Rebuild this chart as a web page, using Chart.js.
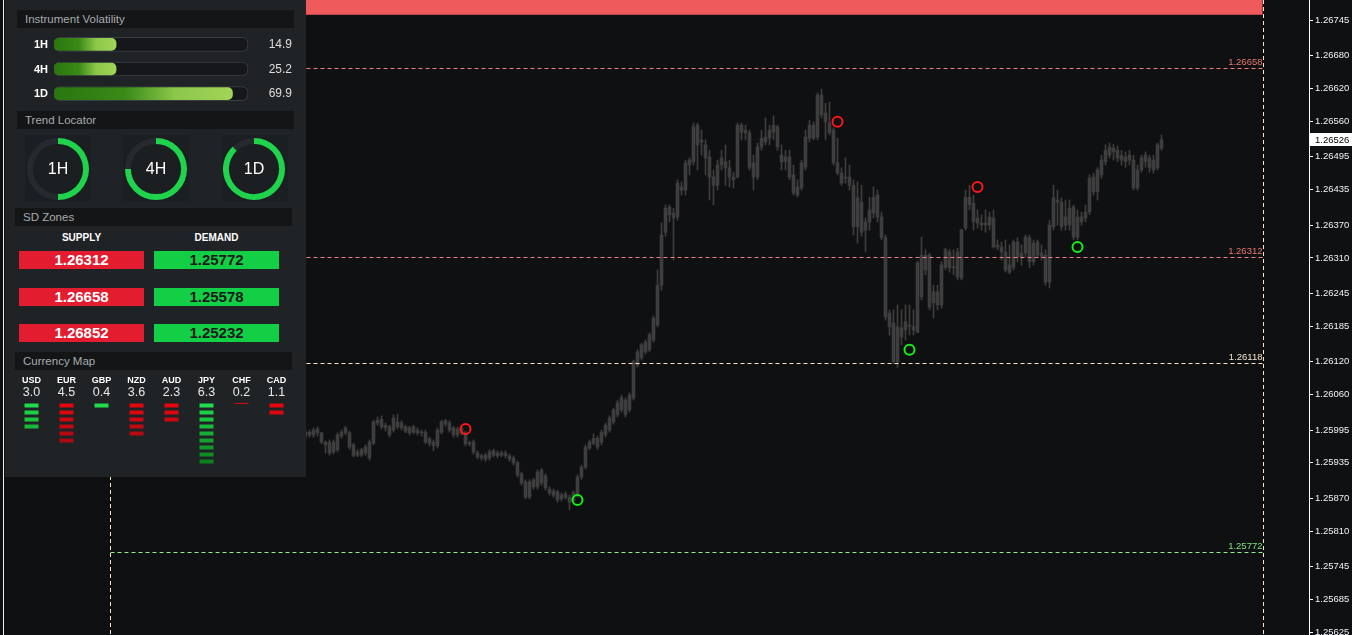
<!DOCTYPE html>
<html>
<head>
<meta charset="utf-8">
<script src="https://cdn.jsdelivr.net/npm/chart.js@4.4.1/dist/chart.umd.min.js"></script>
<style>
  html, body { margin: 0; padding: 0; background: #0f1012; width: 1352px; height: 635px; overflow: hidden; font-family: "Liberation Sans", Arial, sans-serif; }
  canvas { position: absolute; }
  .edge { position: absolute; left: 3px; top: 0; width: 1px; height: 635px; background: #f0f0f0; }
  .panel { position: absolute; left: 5px; top: 0; width: 301px; height: 477px; background: #1f2326; }
  .hdr { position: absolute; width: 277px; height: 18px; line-height: 18px; background: #131517; color: #a9abad; font-size: 11.5px; padding-left: 8px; box-sizing: border-box; }
  .gbox { position: absolute; top: 135px; width: 66px; height: 66px; background: #1c1f22; }
  .sdh { position: absolute; top: 232px; width: 125px; text-align: center; color: #fff; font-weight: bold; font-size: 10px; }
  .sd { position: absolute; width: 125px; height: 18px; line-height: 18px; text-align: center; font-weight: bold; font-size: 15px; }
</style>
</head>
<body>
<canvas id="main" width="1352" height="635"></canvas>
<div class="edge"></div>
<div class="panel"></div>

<div class="hdr" style="left:17px;top:10px">Instrument Volatility</div>
<canvas id="vol" width="280" height="74" style="left:20px;top:32px"></canvas>

<div class="hdr" style="left:17px;top:111px">Trend Locator</div>
<div class="gbox" style="left:25px"></div>
<div class="gbox" style="left:123px"></div>
<div class="gbox" style="left:222px"></div>
<canvas id="g0" width="62" height="62" style="left:27px;top:138px"></canvas>
<canvas id="g1" width="62" height="62" style="left:125px;top:138px"></canvas>
<canvas id="g2" width="62" height="62" style="left:223px;top:138px"></canvas>

<div class="hdr" style="left:15px;top:208px">SD Zones</div>
<div class="sdh" style="left:19px">SUPPLY</div>
<div class="sdh" style="left:154px">DEMAND</div>
<div id="sd"></div>

<div class="hdr" style="left:15px;top:352px">Currency Map</div>
<canvas id="cur" width="280" height="96" style="left:14px;top:374px"></canvas>

<script>
// ---- price data (M5 candles, oldest first) ----
const opens = [
  1.25984,1.25986,1.25986,1.25997,1.25990,1.25973,1.25973,1.25955,1.25959,1.25984,
  1.25990,1.25990,1.25968,1.25949,1.25959,1.25953,1.25973,1.25971,1.26008,1.26015,
  1.26004,1.26001,1.25995,1.26010,1.26008,1.26001,1.25999,1.25991,1.25995,1.25991,
  1.25991,1.25979,1.25973,1.25966,1.25991,1.26012,1.26008,1.25999,1.25986,1.25999,
  1.25990,1.25971,1.25973,1.25953,1.25948,1.25942,1.25944,1.25957,1.25948,1.25953,
  1.25953,1.25948,1.25944,1.25935,1.25915,1.25900,1.25872,1.25891,1.25891,1.25922,
  1.25911,1.25887,1.25883,1.25882,1.25869,1.25878,1.25872,1.25867,1.25876,1.25909,
  1.25927,1.25962,1.25971,1.25980,1.25973,1.25986,1.25995,1.26010,1.26023,1.26032,
  1.26050,1.26032,1.26054,1.26114,1.26127,1.26138,1.26142,1.26160,1.26187,1.26260,
  1.26357,1.26403,1.26392,1.26385,1.26440,1.26434,1.26489,1.26486,1.26553,1.26526,
  1.26517,1.26495,1.26458,1.26443,1.26480,1.26486,1.26475,1.26458,1.26458,1.26553,
  1.26544,1.26539,1.26484,1.26458,1.26513,1.26522,1.26529,1.26540,1.26550,1.26498,
  1.26486,1.26495,1.26462,1.26440,1.26438,1.26476,1.26529,1.26553,1.26531,1.26608,
  1.26575,1.26557,1.26544,1.26484,1.26465,1.26458,1.26458,1.26443,1.26367,1.26412,
  1.26361,1.26376,1.26392,1.26425,1.26385,1.26347,1.26209,1.26191,1.26120,1.26182,
  1.26178,1.26187,1.26184,1.26174,1.26315,1.26288,1.26315,1.26228,1.26248,1.26224,
  1.26293,1.26321,1.26293,1.26275,1.26273,1.26365,1.26421,1.26410,1.26383,1.26374,
  1.26370,1.26370,1.26383,1.26334,1.26330,1.26321,1.26284,1.26293,1.26339,1.26319,
  1.26319,1.26347,1.26303,1.26339,1.26319,1.26315,1.26266,1.26367,1.26416,1.26412,
  1.26370,1.26370,1.26403,1.26348,1.26376,1.26383,1.26394,1.26458,1.26431,1.26462,
  1.26486,1.26498,1.26511,1.26507,1.26498,1.26486,1.26498,1.26489,1.26438,1.26471,
  1.26498,1.26493,1.26471,1.26475,1.26511
];
const closes = [
  1.25991,1.25991,1.25995,1.25990,1.25973,1.25968,1.25953,1.25973,1.25986,1.25991,
  1.25999,1.25964,1.25949,1.25955,1.25949,1.25964,1.25944,1.26010,1.26013,1.26001,
  1.25999,1.25986,1.26017,1.26001,1.25999,1.25993,1.25990,1.26001,1.25990,1.25990,
  1.25973,1.25971,1.25966,1.25995,1.26010,1.26006,1.25995,1.25986,1.25997,1.25990,
  1.25970,1.25970,1.25955,1.25946,1.25944,1.25949,1.25955,1.25949,1.25953,1.25949,
  1.25948,1.25942,1.25935,1.25913,1.25898,1.25872,1.25900,1.25904,1.25918,1.25898,
  1.25889,1.25880,1.25876,1.25867,1.25876,1.25872,1.25863,1.25880,1.25909,1.25927,
  1.25964,1.25973,1.25980,1.25964,1.25991,1.26004,1.26017,1.26032,1.26045,1.26054,
  1.26023,1.26059,1.26120,1.26138,1.26151,1.26156,1.26169,1.26200,1.26260,1.26352,
  1.26401,1.26389,1.26383,1.26447,1.26434,1.26484,1.26480,1.26550,1.26517,1.26522,
  1.26493,1.26458,1.26443,1.26480,1.26493,1.26475,1.26458,1.26453,1.26553,1.26540,
  1.26539,1.26476,1.26458,1.26513,1.26529,1.26531,1.26544,1.26553,1.26513,1.26486,
  1.26495,1.26458,1.26429,1.26425,1.26484,1.26531,1.26553,1.26529,1.26608,1.26572,
  1.26559,1.26539,1.26484,1.26465,1.26447,1.26456,1.26443,1.26367,1.26420,1.26357,
  1.26376,1.26398,1.26421,1.26385,1.26347,1.26202,1.26184,1.26120,1.26184,1.26165,
  1.26193,1.26185,1.26178,1.26301,1.26239,1.26315,1.26220,1.26248,1.26224,1.26297,
  1.26325,1.26292,1.26292,1.26321,1.26361,1.26421,1.26407,1.26376,1.26374,1.26370,
  1.26374,1.26385,1.26330,1.26330,1.26321,1.26288,1.26297,1.26339,1.26312,1.26310,
  1.26348,1.26303,1.26337,1.26315,1.26312,1.26266,1.26370,1.26420,1.26412,1.26367,
  1.26385,1.26401,1.26348,1.26385,1.26385,1.26394,1.26456,1.26431,1.26471,1.26489,
  1.26507,1.26513,1.26504,1.26493,1.26489,1.26495,1.26489,1.26438,1.26471,1.26493,
  1.26486,1.26475,1.26489,1.26517,1.26526
];
const highs = [
  1.25995,1.25995,1.25999,1.26001,1.25991,1.25975,1.25977,1.25977,1.25990,1.25995,
  1.26002,1.25993,1.25971,1.25959,1.25962,1.25968,1.25977,1.26013,1.26019,1.26021,
  1.26008,1.26004,1.26023,1.26024,1.26012,1.26004,1.26002,1.26004,1.25999,1.25995,
  1.25995,1.25982,1.25977,1.25999,1.26013,1.26015,1.26012,1.26002,1.26001,1.26002,
  1.25993,1.25975,1.25977,1.25957,1.25951,1.25953,1.25959,1.25960,1.25957,1.25957,
  1.25957,1.25951,1.25948,1.25938,1.25918,1.25904,1.25904,1.25907,1.25922,1.25925,
  1.25915,1.25891,1.25887,1.25885,1.25880,1.25882,1.25876,1.25883,1.25913,1.25931,
  1.25968,1.25977,1.25988,1.25984,1.25995,1.26008,1.26021,1.26035,1.26050,1.26059,
  1.26054,1.26063,1.26123,1.26142,1.26154,1.26160,1.26173,1.26204,1.26288,1.26374,
  1.26407,1.26407,1.26401,1.26453,1.26449,1.26489,1.26493,1.26557,1.26557,1.26544,
  1.26526,1.26507,1.26471,1.26489,1.26507,1.26517,1.26489,1.26467,1.26557,1.26557,
  1.26553,1.26544,1.26498,1.26520,1.26544,1.26566,1.26553,1.26570,1.26553,1.26517,
  1.26507,1.26507,1.26480,1.26453,1.26489,1.26544,1.26562,1.26559,1.26612,1.26619,
  1.26593,1.26595,1.26548,1.26529,1.26475,1.26493,1.26480,1.26453,1.26449,1.26443,
  1.26383,1.26421,1.26440,1.26434,1.26394,1.26352,1.26215,1.26215,1.26224,1.26215,
  1.26224,1.26224,1.26215,1.26304,1.26348,1.26325,1.26319,1.26260,1.26260,1.26303,
  1.26328,1.26326,1.26325,1.26328,1.26363,1.26434,1.26443,1.26425,1.26398,1.26389,
  1.26398,1.26394,1.26398,1.26343,1.26339,1.26343,1.26334,1.26343,1.26347,1.26334,
  1.26352,1.26352,1.26343,1.26343,1.26334,1.26325,1.26379,1.26443,1.26434,1.26420,
  1.26416,1.26416,1.26407,1.26398,1.26394,1.26407,1.26462,1.26465,1.26475,1.26498,
  1.26517,1.26520,1.26518,1.26515,1.26507,1.26504,1.26507,1.26498,1.26480,1.26498,
  1.26504,1.26498,1.26498,1.26520,1.26535
];
const lows = [
  1.25980,1.25982,1.25982,1.25984,1.25970,1.25953,1.25949,1.25951,1.25955,1.25980,
  1.25986,1.25960,1.25946,1.25946,1.25946,1.25949,1.25940,1.25968,1.26004,1.25997,
  1.25993,1.25982,1.25991,1.25997,1.25995,1.25990,1.25986,1.25988,1.25986,1.25984,
  1.25970,1.25966,1.25957,1.25962,1.25988,1.26002,1.25991,1.25982,1.25982,1.25986,
  1.25966,1.25966,1.25951,1.25942,1.25940,1.25938,1.25940,1.25946,1.25944,1.25946,
  1.25944,1.25938,1.25931,1.25909,1.25894,1.25869,1.25869,1.25887,1.25887,1.25894,
  1.25885,1.25876,1.25872,1.25863,1.25865,1.25869,1.25849,1.25863,1.25872,1.25905,
  1.25924,1.25959,1.25968,1.25960,1.25968,1.25982,1.25991,1.26006,1.26019,1.26028,
  1.26019,1.26028,1.26050,1.26110,1.26123,1.26134,1.26138,1.26156,1.26184,1.26251,
  1.26350,1.26376,1.26306,1.26379,1.26425,1.26425,1.26462,1.26480,1.26471,1.26498,
  1.26462,1.26416,1.26407,1.26434,1.26471,1.26443,1.26440,1.26438,1.26456,1.26526,
  1.26526,1.26471,1.26434,1.26453,1.26507,1.26517,1.26517,1.26526,1.26507,1.26471,
  1.26471,1.26453,1.26425,1.26422,1.26434,1.26471,1.26522,1.26526,1.26526,1.26566,
  1.26526,1.26535,1.26480,1.26462,1.26443,1.26447,1.26434,1.26352,1.26337,1.26350,
  1.26321,1.26361,1.26383,1.26376,1.26343,1.26196,1.26169,1.26116,1.26110,1.26151,
  1.26160,1.26169,1.26169,1.26173,1.26233,1.26279,1.26215,1.26200,1.26215,1.26218,
  1.26288,1.26284,1.26279,1.26270,1.26270,1.26361,1.26398,1.26361,1.26365,1.26361,
  1.26357,1.26361,1.26328,1.26325,1.26306,1.26284,1.26281,1.26288,1.26303,1.26297,
  1.26312,1.26292,1.26297,1.26310,1.26306,1.26260,1.26255,1.26361,1.26370,1.26361,
  1.26361,1.26361,1.26343,1.26343,1.26370,1.26376,1.26389,1.26425,1.26416,1.26456,
  1.26480,1.26493,1.26489,1.26486,1.26480,1.26476,1.26480,1.26434,1.26434,1.26467,
  1.26476,1.26467,1.26465,1.26471,1.26507
];

// signal markers (candle index + price)
const sellIdx = [40, 133, 168];
const sellPrice = [1.25997, 1.26559, 1.26440];
const buyIdx = [68, 151, 193];
const buyPrice = [1.25867, 1.26142, 1.26330];

// levels drawn on the chart
const levelPrices = [1.26658, 1.26312, 1.26118, 1.25772];
const levelLine = ["#f08080", "#f08080", "#ffe4c4", "#90ee90"];
const levelText = ["#e8786f", "#e8786f", "#f2e2cf", "#7fe07f"];
const supplyBand = [1.26755, 1.26852];
const sessionBreaks = [-49, 239.25];

// price axis
const yTicks = [1.26745, 1.26680, 1.26620, 1.26560, 1.26495, 1.26435, 1.26370, 1.26310, 1.26245,
  1.26185, 1.26120, 1.26060, 1.25995, 1.25935, 1.25870, 1.25810, 1.25745, 1.25685, 1.25625];

// dashboard panel
const volTf = ["1H", "4H", "1D"];
const volValues = [14.9, 25.2, 69.9];
const volFill = [32, 32, 92];
const trendTf = ["1H", "4H", "1D"];
const trendFill = [50, 75, 88];
const supplyLevels = [1.26312, 1.26658, 1.26852];
const demandLevels = [1.25772, 1.25578, 1.25232];
const curNames = ["USD", "EUR", "GBP", "NZD", "AUD", "JPY", "CHF", "CAD"];
const curValues = [3.0, 4.5, 0.4, 3.6, 2.3, 6.3, 0.2, 1.1];
const curBars = [4, 6, 1, 5, 3, 9, 0, 2];
const curStrong = [true, false, true, false, false, true, false, false];

const candleColor = "#3e3e3e";
const FONT = "Liberation Sans";

// ---- main chart ----
const overlay = {
  id: "overlay",
  beforeDatasetsDraw(chart) {
    const { ctx, chartArea, scales: { x, y } } = chart;
    const x0 = x.getPixelForValue(sessionBreaks[0]);
    const x1 = x.getPixelForValue(sessionBreaks[1]);
    const top = Math.max(chartArea.top, y.getPixelForValue(supplyBand[1]));
    const bot = y.getPixelForValue(supplyBand[0]);
    ctx.save();
    ctx.fillStyle = "#ef5b5c";
    ctx.fillRect(x0, top, x1 - x0, bot - top);
    ctx.restore();
  },
  afterDatasetsDraw(chart) {
    const { ctx, chartArea, scales: { x, y } } = chart;
    const x0 = Math.round(x.getPixelForValue(sessionBreaks[0])) + 0.5;
    const x1 = Math.round(x.getPixelForValue(sessionBreaks[1])) + 0.5;
    ctx.save();
    ctx.lineWidth = 1;
    ctx.setLineDash([4, 3]);
    levelPrices.forEach((p, k) => {
      const py = Math.round(y.getPixelForValue(p)) + 0.5;
      ctx.strokeStyle = levelLine[k];
      ctx.beginPath();
      ctx.moveTo(x0, py);
      ctx.lineTo(x1, py);
      ctx.stroke();
    });
    ctx.strokeStyle = "#ffe4c4";
    sessionBreaks.forEach(s => {
      const px = Math.round(x.getPixelForValue(s)) + 0.5;
      ctx.beginPath();
      ctx.moveTo(px, chartArea.top);
      ctx.lineTo(px, chartArea.bottom);
      ctx.stroke();
    });
    ctx.setLineDash([]);
    ctx.font = "9.5px '" + FONT + "'";
    ctx.textAlign = "right";
    ctx.textBaseline = "bottom";
    levelPrices.forEach((p, k) => {
      ctx.fillStyle = levelText[k];
      ctx.fillText(p.toFixed(5), x1 - 1, y.getPixelForValue(p) - 1);
    });
    ctx.restore();
  },
  afterDraw(chart) {
    const { ctx, scales: { y } } = chart;
    const last = closes[closes.length - 1];
    const py = Math.round(y.getPixelForValue(last));
    ctx.save();
    ctx.fillStyle = "#ffffff";
    ctx.fillRect(y.left + 1, py - 7, chart.width - y.left - 1, 13);
    ctx.fillStyle = "#000000";
    ctx.font = "9.5px '" + FONT + "'";
    ctx.textBaseline = "middle";
    ctx.fillText(last.toFixed(5), y.left + 6, py);
    ctx.restore();
  }
};

const idx = opens.map((_, i) => i);

new Chart(document.getElementById("main"), {
  type: "bar",
  data: {
    datasets: [
      {
        label: "wicks",
        data: idx.map(i => ({ x: i, y: [lows[i], highs[i]] })),
        backgroundColor: candleColor,
        barThickness: 1,
        grouped: false,
        order: 3
      },
      {
        label: "bodies",
        data: idx.map(i => ({ x: i, y: [opens[i], closes[i]] })),
        backgroundColor: candleColor,
        barThickness: 3,
        minBarLength: 1,
        grouped: false,
        order: 2
      },
      {
        type: "scatter",
        label: "sell",
        data: sellIdx.map((i, k) => ({ x: i, y: sellPrice[k] })),
        pointStyle: "circle",
        pointRadius: 5,
        borderWidth: 2,
        borderColor: "#ff1616",
        backgroundColor: "rgba(0,0,0,0)",
        order: 1
      },
      {
        type: "scatter",
        label: "buy",
        data: buyIdx.map((i, k) => ({ x: i, y: buyPrice[k] })),
        pointStyle: "circle",
        pointRadius: 5,
        borderWidth: 2,
        borderColor: "#16ee16",
        backgroundColor: "rgba(0,0,0,0)",
        order: 1
      }
    ]
  },
  options: {
    responsive: false,
    animation: false,
    devicePixelRatio: 1,
    layout: { padding: 0, autoPadding: false },
    plugins: { legend: { display: false }, tooltip: { enabled: false } },
    scales: {
      x: { type: "linear", min: -76.375, max: 250.875, display: false, offset: false },
      y: {
        type: "linear",
        position: "right",
        min: 1.2562,
        max: 1.26782,
        afterBuildTicks: s => { s.ticks = yTicks.map(v => ({ value: v })); },
        afterFit: s => { s.width = 43; s.paddingTop = 0; s.paddingBottom = 0; },
        ticks: {
          color: "#eef2f6",
          font: { family: FONT, size: 9.5 },
          padding: 2,
          autoSkip: false,
          callback: v => Number(v).toFixed(5)
        },
        grid: { drawOnChartArea: false, drawTicks: true, tickLength: 4, color: "#ffffff" },
        border: { display: true, color: "#ffffff", width: 1 }
      }
    }
  },
  plugins: [overlay]
});

// ---- instrument volatility ----
const volText = {
  id: "volText",
  afterDraw(chart) {
    const { ctx, scales: { y } } = chart;
    ctx.save();
    ctx.textBaseline = "middle";
    ctx.textAlign = "right";
    volTf.forEach((tf, i) => {
      const py = y.getPixelForValue(i);
      ctx.fillStyle = "#ffffff";
      ctx.font = "bold 11px '" + FONT + "'";
      ctx.fillText(tf, 28, py + 0.5);
      ctx.fillStyle = "#dedede";
      ctx.font = "12px '" + FONT + "'";
      ctx.fillText(volValues[i].toFixed(1), 272, py + 0.5);
    });
    ctx.restore();
  }
};

new Chart(document.getElementById("vol"), {
  type: "bar",
  data: {
    labels: volTf,
    datasets: [
      {
        data: volFill,
        backgroundColor: c => {
          const ch = c.chart;
          if (!ch.chartArea) return "#5aa22a";
          const xs = ch.scales.x;
          const a = xs.getPixelForValue(0);
          const b = xs.getPixelForValue(volFill[c.dataIndex]);
          const g = ch.ctx.createLinearGradient(a, 0, b, 0);
          g.addColorStop(0, "#2a7510");
          g.addColorStop(0.4, "#3a8a18");
          g.addColorStop(0.68, "#8cc84b");
          g.addColorStop(1, "#a2d457");
          return g;
        },
        barThickness: 12,
        borderRadius: 5,
        borderSkipped: false,
        grouped: false,
        order: 1
      },
      {
        data: volTf.map(() => 100),
        backgroundColor: "#15171a",
        borderColor: "#3a3d41",
        borderWidth: 1,
        barThickness: 14,
        borderRadius: 6,
        borderSkipped: false,
        grouped: false,
        order: 2
      }
    ]
  },
  options: {
    indexAxis: "y",
    responsive: false,
    animation: false,
    devicePixelRatio: 1,
    layout: { padding: { left: 34, right: 52, top: 0, bottom: 0 }, autoPadding: false },
    plugins: { legend: { display: false }, tooltip: { enabled: false } },
    scales: {
      x: { min: 0, max: 100, display: false },
      y: { display: false }
    }
  },
  plugins: [volText]
});

// ---- trend locator ----
trendTf.forEach((tf, k) => {
  new Chart(document.getElementById("g" + k), {
    type: "doughnut",
    data: {
      datasets: [{
        data: [trendFill[k], 100 - trendFill[k]],
        backgroundColor: ["#1fd34d", "#26292d"],
        borderWidth: 0
      }]
    },
    options: {
      responsive: false,
      animation: false,
      devicePixelRatio: 1,
      cutout: "81%",
      layout: { autoPadding: false },
      plugins: { legend: { display: false }, tooltip: { enabled: false } }
    },
    plugins: [{
      id: "center",
      afterDraw(c) {
        const arc = c.getDatasetMeta(0).data[0];
        const ctx = c.ctx;
        ctx.save();
        ctx.fillStyle = "#ffffff";
        ctx.font = "16px '" + FONT + "'";
        ctx.textAlign = "center";
        ctx.textBaseline = "middle";
        ctx.fillText(tf, arc.x, arc.y + 1);
        ctx.restore();
      }
    }]
  });
});

// ---- SD zones ----
const sdRoot = document.getElementById("sd");
const sdTops = [251, 288, 324];
supplyLevels.forEach((v, i) => {
  const s = document.createElement("div");
  s.className = "sd";
  s.style.cssText = `left:19px;top:${sdTops[i]}px;background:#e31c2f;color:#fff`;
  s.textContent = v.toFixed(5);
  sdRoot.appendChild(s);
  const d = document.createElement("div");
  d.className = "sd";
  d.style.cssText = `left:154px;top:${sdTops[i]}px;background:#12cf46;color:#1b1b1b`;
  d.textContent = demandLevels[i].toFixed(5);
  sdRoot.appendChild(d);
});

// ---- currency map ----
function mix(a, b, t) {
  const pa = a.match(/\w\w/g).map(h => parseInt(h, 16));
  const pb = b.match(/\w\w/g).map(h => parseInt(h, 16));
  return "rgb(" + pa.map((v, i) => Math.round(v + (pb[i] - v) * t)).join(",") + ")";
}

const curPoints = [];
curNames.forEach((n, k) => {
  if (curBars[k] === 0) curPoints.push({ x: k, y: -0.3, lvl: 0, thin: true });
  for (let j = 0; j < curBars[k]; j++) curPoints.push({ x: k, y: j, lvl: j });
});

const curText = {
  id: "curText",
  afterDraw(chart) {
    const { ctx, scales: { x } } = chart;
    ctx.save();
    ctx.textAlign = "center";
    ctx.textBaseline = "middle";
    curNames.forEach((n, k) => {
      const px = x.getPixelForValue(k);
      ctx.fillStyle = "#ffffff";
      ctx.font = "bold 9px '" + FONT + "'";
      ctx.fillText(n, px, 7);
      ctx.fillStyle = "#e8e8e8";
      ctx.font = "12.5px '" + FONT + "'";
      ctx.fillText(curValues[k].toFixed(1), px, 19);
    });
    ctx.restore();
  }
};

new Chart(document.getElementById("cur"), {
  type: "scatter",
  data: {
    datasets: [{
      data: curPoints,
      pointStyle: "line",
      pointRadius: 7,
      pointBorderWidth: c => (c.raw && c.raw.thin ? 1 : 4),
      pointBorderColor: c => {
        const r = c.raw;
        if (!r) return "#fff";
        return curStrong[r.x] ? mix("1fdc4d", "0e801e", r.lvl / 8) : mix("e5060e", "a00a14", r.lvl / 6);
      },
      pointBackgroundColor: "rgba(0,0,0,0)"
    }]
  },
  options: {
    responsive: false,
    animation: false,
    devicePixelRatio: 1,
    layout: { padding: { top: 28, bottom: 5, left: 0, right: 0 }, autoPadding: false },
    plugins: { legend: { display: false }, tooltip: { enabled: false } },
    scales: {
      x: { type: "linear", min: -0.5, max: 7.5, display: false },
      y: { type: "linear", min: -0.5, max: 8.5, reverse: true, display: false }
    }
  },
  plugins: [curText]
});
</script>
</body>
</html>
